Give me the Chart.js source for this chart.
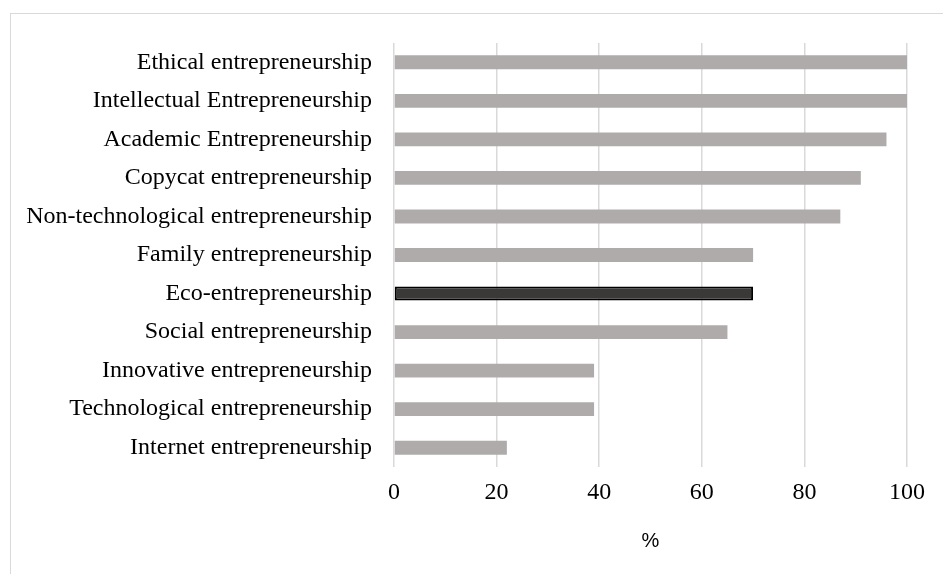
<!DOCTYPE html>
<html>
<head>
<meta charset="utf-8">
<script src="https://cdn.jsdelivr.net/npm/chart.js@4"></script>
<style>
  html, body { margin: 0; padding: 0; background: #fff; }
  #wrap { position: relative; width: 943px; height: 574px; overflow: hidden; }
  #marco { position: absolute; left: 10px; top: 13px; width: 1000px; height: 700px; border: 1px solid #d9d9d9; box-sizing: border-box; }
  canvas { position: absolute; left: 0; top: 0; }
</style>
</head>
<body>
<div id="wrap">
  <div id="marco"></div>
  <canvas id="grafico" width="943" height="574"></canvas>
</div>
<script>
const categorias = [
  "Ethical entrepreneurship",
  "Intellectual Entrepreneurship",
  "Academic Entrepreneurship",
  "Copycat entrepreneurship",
  "Non-technological entrepreneurship",
  "Family entrepreneurship",
  "Eco-entrepreneurship",
  "Social entrepreneurship",
  "Innovative entrepreneurship",
  "Technological entrepreneurship",
  "Internet entrepreneurship"
];
const valores = [100, 100, 96, 91, 87, 70, 70, 65, 39, 39, 22];
const resaltado = "Eco-entrepreneurship";
const ticksX = [0, 20, 40, 60, 80, 100];

const colorBarra = categorias.map(c => c === resaltado ? "#3b3838" : "#afabab");
const bordeBarra = categorias.map(c => c === resaltado ? "#000000" : "#afabab");
const anchoBorde = categorias.map(c => c === resaltado ? 2 : 0);

const fuenteSerif = "'Liberation Serif', 'Times New Roman', serif";

const ctx = document.getElementById("grafico").getContext("2d");
new Chart(ctx, {
  type: "bar",
  data: {
    labels: categorias,
    datasets: [{
      data: valores,
      backgroundColor: colorBarra,
      borderColor: bordeBarra,
      borderWidth: anchoBorde,
      borderSkipped: false,
      categoryPercentage: 0.36,
      barPercentage: 1
    }]
  },
  options: {
    indexAxis: "y",
    responsive: false,
    animation: false,
    layout: { padding: { top: 43, right: 36, left: 0, bottom: 0 } },
    plugins: { legend: { display: false }, tooltip: { enabled: false } },
    scales: {
      x: {
        min: 0,
        max: 100,
        afterBuildTicks: s => { s.ticks = ticksX.map(v => ({ value: v })); },
        afterFit: s => { s.height = 107; },
        grid: { color: "#d9d9d9", lineWidth: 1.5, drawTicks: false },
        border: { display: false },
        ticks: { color: "#000", padding: 11, font: { family: fuenteSerif, size: 24 } },
        title: {
          display: true,
          text: "%",
          color: "#000",
          font: { family: "'Liberation Sans', Arial, sans-serif", size: 20 },
          padding: { top: 4, bottom: 21 }
        }
      },
      y: {
        afterFit: s => { s.width = 394; },
        grid: { display: false, drawTicks: false },
        border: { display: false },
        ticks: { color: "#000", padding: 22, font: { family: fuenteSerif, size: 24 } }
      }
    }
  }
});
</script>
</body>
</html>
